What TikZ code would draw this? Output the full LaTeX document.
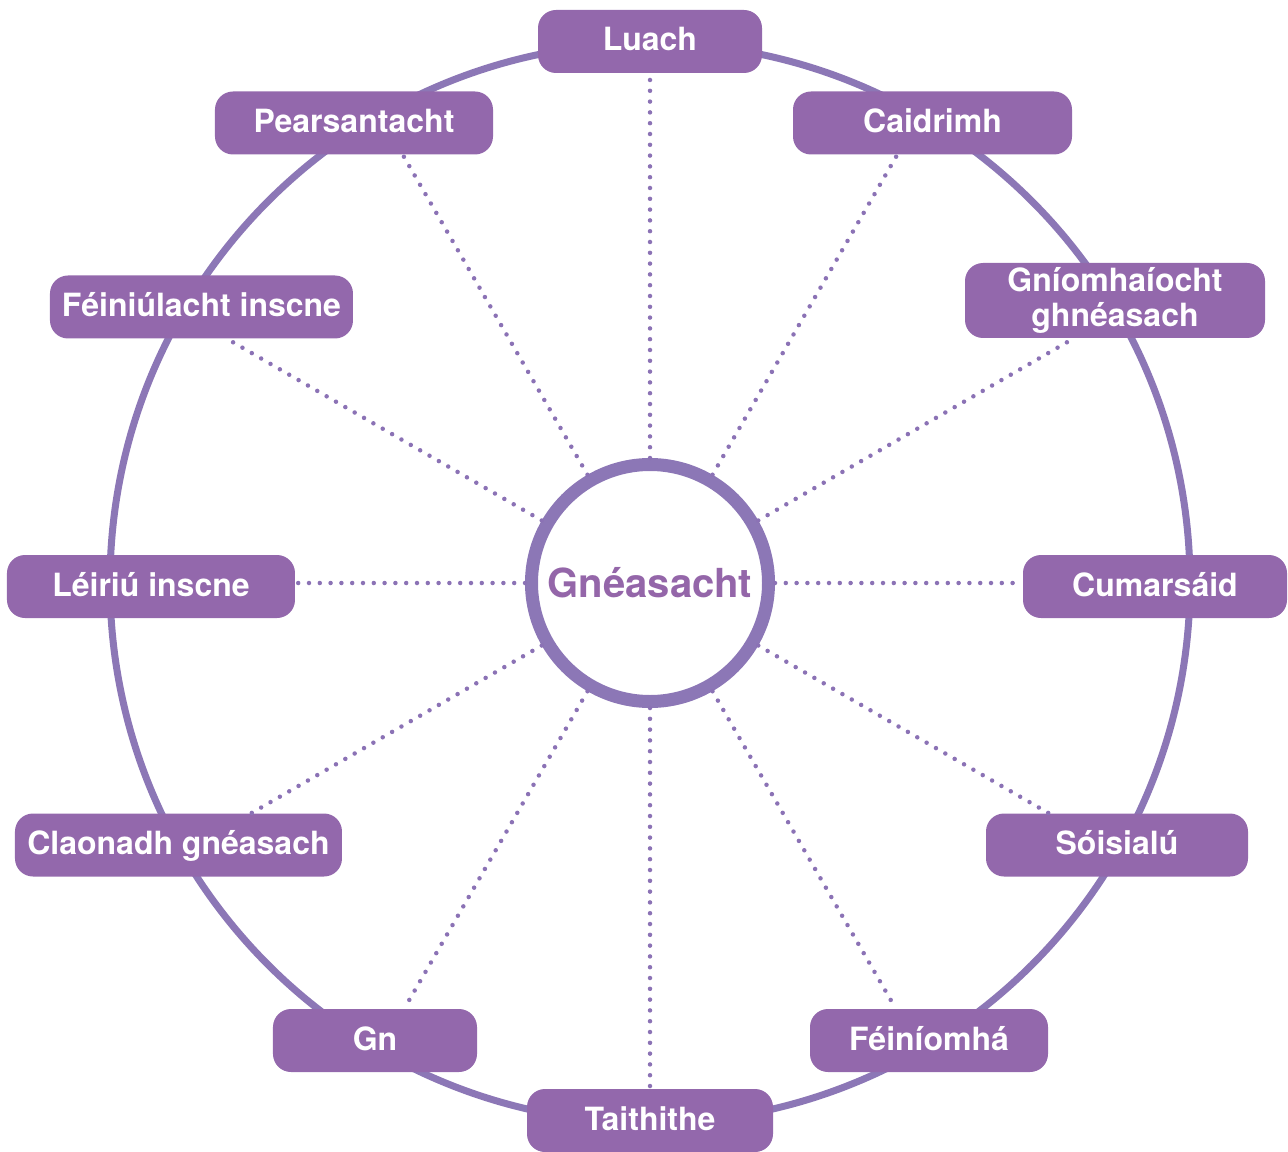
\documentclass[tikz,border=0pt]{standalone}
\usepackage{fontspec}
\setmainfont{TeX Gyre Heros}

\definecolor{boxpurple}{HTML}{9368AC}
\definecolor{ringpurple}{HTML}{8C77B6}
\definecolor{dotpurple}{HTML}{8B72B5}
\definecolor{hubtext}{HTML}{9466A9}

\begin{document}
\begin{tikzpicture}[x=0.5pt, y=0.5pt,
    topic/.style ={rounded corners=9pt, fill=boxpurple, text=white,
      font=\fontsize{16}{17.5}\selectfont\bfseries, minimum height=31.5pt,
      inner sep=0pt, text height=12pt, text depth=2.5pt, align=center},
    hub/.style ={circle, draw=ringpurple, line width=6.5pt, minimum size=118.5pt,
      inner sep=0pt, text=hubtext, font=\fontsize{20}{24}\selectfont\bfseries},
    spoke/.style ={draw=dotpurple, line width=2.25pt, line cap=round,
      dash pattern=on 0pt off 5.4pt}]
   \useasboundingbox (-650,-568) rectangle (638,583);

   % outer ring
   \draw[ringpurple, line width=3.5pt] (0,0) circle (540);

   \node[hub] (ctr) at (0,0) {Gnéasacht};

   \node[topic, minimum width=112pt]   (luach) at (0,541.5)     {Luach};
   \node[topic, minimum width=139.5pt] (caid)  at (282.5,460)   {Caidrimh};
   \node[topic, minimum width=150pt, minimum height=37.5pt, text height={}, text depth={}]
                                       (gniomh) at (465,282.5)  {Gníomhaíocht\\ghnéasach};
   \node[topic, minimum width=132pt]   (cum)   at (505,-3.5)    {Cumarsáid};
   \node[topic, minimum width=131pt]   (sois)  at (467,-262)    {Sóisialú};
   \node[topic, minimum width=119pt]   (fein)  at (279,-457.5)  {Féiníomhá};
   \node[topic, minimum width=123pt]   (taith) at (0,-537.5)    {Taithithe};
   \node[topic, minimum width=102pt]   (gn)    at (-275,-457.5) {Gn};
   \node[topic, minimum width=163.5pt] (claon) at (-471.5,-262) {Claonadh gnéasach};
   \node[topic, minimum width=144pt]   (leiriu) at (-499,-3.5)  {Léiriú inscne};
   \node[topic, minimum width=151.5pt] (feiniu) at (-448.5,276) {Féiniúlacht inscne};
   \node[topic, minimum width=139pt]   (pears) at (-296,460)    {Pearsantacht};

   % where each spoke meets its box
   \coordinate (tluach)  at (90:510);
   \coordinate (tcaid)   at (60:495);
   \coordinate (tgniomh) at (30:489);
   \coordinate (tcum)    at (0:373);
   \coordinate (tsois)   at (-30:461);
   \coordinate (tfein)   at (-60:492);
   \coordinate (ttaith)  at (-90:506);
   \coordinate (tgn)     at (-120:492);
   \coordinate (tclaon)  at (-150:460);
   \coordinate (tleiriu) at (180:355);
   \coordinate (tfeiniu) at (150:490);
   \coordinate (tpears)  at (120:495);

   \draw[spoke] (ctr.90)   -- (tluach);
   \draw[spoke] (ctr.60)   -- (tcaid);
   \draw[spoke] (ctr.30)   -- (tgniomh);
   \draw[spoke] (ctr.0)    -- (tcum);
   \draw[spoke] (ctr.-30)  -- (tsois);
   \draw[spoke] (ctr.-60)  -- (tfein);
   \draw[spoke] (ctr.-90)  -- (ttaith);
   \draw[spoke] (ctr.-120) -- (tgn);
   \draw[spoke] (ctr.-150) -- (tclaon);
   \draw[spoke] (ctr.180)  -- (tleiriu);
   \draw[spoke] (ctr.150)  -- (tfeiniu);
   \draw[spoke] (ctr.120)  -- (tpears);

 \end{tikzpicture}
\end{document}
